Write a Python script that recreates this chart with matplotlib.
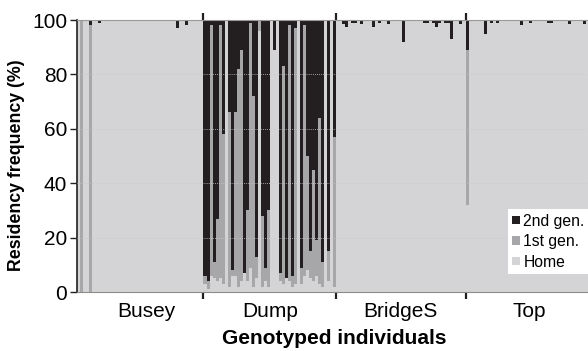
import matplotlib.pyplot as plt
import numpy as np

plt.rcParams['font.family'] = ['Liberation Sans', 'DejaVu Sans']

groups = ['Busey', 'Dump', 'BridgeS', 'Top']
group_label_pos = [23, 64, 107.5, 150]

# residency (%) per genotyped individual: home and 2nd generation, 1st gen is the rest
busey_home = [100, 0, 100, 100, 0, 100, 100, 99, 100, 100,
              100, 100, 100, 100, 100, 100, 100, 100, 100, 100,
              100, 100, 100, 100, 100, 100, 100, 100, 100, 100,
              100, 100, 100, 97, 100, 100, 98, 100, 100, 100,
              100, 100]
busey_second = [0, 0, 0, 0, 2, 0, 0, 1, 0, 0,
                0, 0, 0, 0, 0, 0, 0, 0, 0, 0,
                0, 0, 0, 0, 0, 0, 0, 0, 0, 0,
                0, 0, 0, 3, 0, 0, 2, 0, 0, 0,
                0, 0]

dump_home = [3, 1, 6, 5, 4, 5, 3, 100, 2, 6,
             6, 2, 4, 7, 4, 9, 2, 5, 96, 2,
             4, 2, 100, 89, 100, 4, 3, 5, 4, 2,
             3, 100, 3, 6, 8, 5, 4, 6, 3, 2,
             100, 4, 100, 2]
dump_second = [94, 96, 2, 89, 73, 2, 42, 0, 34, 92,
               34, 18, 11, 93, 70, 1, 28, 87, 0, 72,
               91, 70, 0, 11, 0, 93, 17, 95, 2, 94,
               3, 0, 91, 2, 50, 85, 55, 81, 36, 89,
               0, 85, 0, 43]

bridge_second = [0, 0, 1.5, 2.5, 0, 1, 1, 0, 1.5, 0,
                 0, 0, 2.5, 0, 1, 0, 0, 1.5, 0, 0,
                 0, 0, 8, 0, 0, 0, 0, 0, 0, 1,
                 1, 0, 1, 2.5, 1, 0, 1, 1, 7, 0,
                 0, 1.5, 0]
bridge_home = [100 - v for v in bridge_second]

top_second = [11, 0, 0, 0, 0, 0, 5, 0, 1, 0,
              1, 0, 0, 0, 0, 0, 0, 0, 2, 0,
              0, 1, 0, 0, 0, 0, 0, 1, 1, 0,
              0, 0, 0, 0, 1.5, 0, 0, 0, 0, 1.5,
              0, 0]
top_home = [32] + [100 - v for v in top_second[1:]]

sizes = [len(busey_home), len(dump_home), len(bridge_home), len(top_home)]
home = np.array(busey_home + dump_home + bridge_home + top_home, dtype=float)
second = np.array(busey_second + dump_second + bridge_second + top_second, dtype=float)
first = 100 - home - second
x = np.arange(len(home))

c_home = '#d4d4d6'
c_first = '#a7a7a9'
c_second = '#231f20'

fig = plt.figure(figsize=(5.88, 3.51), dpi=100)
ax = fig.add_axes([77 / 588, 59 / 351, 515 / 588, 272 / 351])

b1 = ax.bar(x, home, width=1, align='edge', color=c_home, linewidth=0, label='Home')
b2 = ax.bar(x, first, bottom=home, width=1, align='edge', color=c_first, linewidth=0, label='1st gen.')
b3 = ax.bar(x, second, bottom=home + first, width=1, align='edge', color=c_second, linewidth=0, label='2nd gen.')

for yv in [20, 40, 60, 80]:
    ax.axhline(yv, color='#c9c9cb', lw=0.6, ls=(0, (1, 1.5)), zorder=3)

ax.set_xlim(0, len(home))
ax.set_ylim(0, 100)
ax.set_yticks([0, 20, 40, 60, 80, 100])
ax.tick_params(axis='y', length=5, width=1, labelsize=15, pad=2, color='#231f20')

bounds = np.cumsum(sizes)[:-1]
ax.set_xticks(bounds)
ax.set_xticklabels([])
ax.set_xticks(group_label_pos, minor=True)
ax.set_xticklabels(groups, minor=True)
ax.tick_params(axis='x', which='major', length=5, width=1.6, color='#231f20', top=True, direction='out')
ax.tick_params(axis='x', which='minor', length=0, labelsize=15, pad=7)

ax.spines['left'].set_color('#231f20')
ax.spines['left'].set_linewidth(1.2)
ax.spines['bottom'].set_color('#8c8c8c')
ax.spines['top'].set_color('#9a9a9a')
ax.spines['right'].set_visible(False)

ax.set_xlabel('Genotyped individuals', fontsize=15, fontweight='bold', labelpad=6)
ax.set_ylabel('Residency frequency (%)', fontsize=12.8, fontweight='bold')
ax.yaxis.set_label_coords(-0.100, 0.465)

leg = ax.legend(handles=[b3, b2, b1], loc='lower right', bbox_to_anchor=(0.995, 0.065),
                fontsize=11.3, frameon=True, fancybox=False, framealpha=1,
                edgecolor='white', handlelength=0.45, handleheight=0.45,
                handletextpad=0.25, borderpad=0.3, labelspacing=0.35, borderaxespad=0)
leg.get_frame().set_linewidth(0)

fig.savefig('out.png', dpi=100)
